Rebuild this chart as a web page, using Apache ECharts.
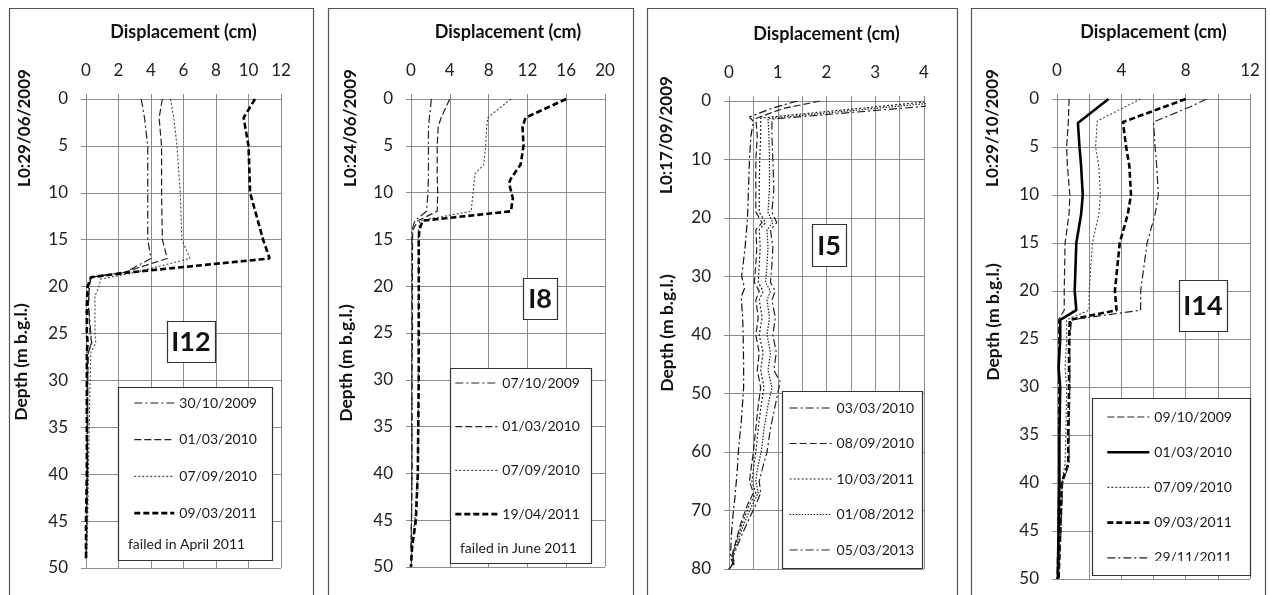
<!DOCTYPE html>
<html><head><meta charset="utf-8">
<script src="https://cdn.jsdelivr.net/npm/echarts@6/dist/echarts.min.js"></script>
<style>html,body{margin:0;padding:0;background:#fff}#c{width:1270px;height:595px}</style>
</head><body><div id="c"></div>
<script>
// ---------- DATA: [displacement (cm), depth (m)] ----------
// Panel I12 (L0: 29/06/2009)
const I12_dates = ['30/10/2009', '01/03/2010', '07/09/2010', '09/03/2011'];
const I12_301009 = [[3.4,0],[3.6,2],[3.8,5],[3.8,10],[3.8,15],[4.0,17],[2.4,18.5],[0.3,19],[0.2,20],[0.15,22],[0.3,25],[0.35,26],[0.1,27],[0.1,30],[0.1,35],[0.05,40],[0.05,45],[0,49]];
const I12_010310 = [[4.7,0],[4.5,2],[4.65,5],[4.65,10],[4.7,15],[5.0,17],[2.3,18.5],[0.3,19],[0.2,20],[0.15,22],[0.25,25],[0.35,26],[0.15,27],[0.1,30],[0.1,35],[0.1,40],[0.05,45],[0,49]];
const I12_070910 = [[5.2,0],[5.4,2],[5.6,5],[5.8,10],[5.9,15],[6.4,17],[3.0,18.5],[0.9,19.2],[0.8,20],[0.55,21],[0.55,25],[0.6,26],[0.3,27],[0.25,30],[0.2,35],[0.15,40],[0.1,45],[0.05,49]];
const I12_090311 = [[10.4,0],[9.7,2],[10.0,5],[10.1,10],[10.9,15],[11.3,17],[2.6,18.5],[0.3,19],[0.1,20],[0.05,22],[0.05,25],[0.1,26],[0.05,27],[0.05,30],[0.05,35],[0.05,40],[0,45],[0,49]];

// Panel I8 (L0: 24/06/2009)
const I8_dates = ['07/10/2009', '01/03/2010', '07/09/2010', '19/04/2011'];
const I8_071009 = [[2.1,0],[1.9,2],[1.8,3],[1.8,5],[1.8,8],[1.75,10],[1.6,12],[0.4,13],[0.1,14],[0.1,15],[0.1,20],[0.1,25],[0.1,30],[0.1,35],[0.1,40],[0.05,45],[0,48]];
const I8_010310 = [[4.0,0],[3.1,2],[2.8,3],[2.7,5],[2.7,8],[2.75,10],[2.7,12],[0.7,13],[0.2,14],[0.15,15],[0.15,20],[0.15,25],[0.1,30],[0.1,35],[0.1,40],[0.05,45],[0,48]];
const I8_070910 = [[10.3,0],[7.9,2],[7.8,3],[7.7,5],[7.5,7],[6.6,8],[6.5,9],[6.4,10],[6.3,11],[6.2,12],[0.9,13],[0.8,14],[0.75,15],[0.8,20],[0.75,25],[0.75,30],[0.75,35],[0.7,40],[0.4,45],[0.1,48],[0,50]];
const I8_190411 = [[16.0,0],[11.8,2],[11.5,3],[11.6,5],[11.3,7],[10.3,8.5],[10.1,9],[10.5,10.6],[10.3,12],[1.2,13],[0.85,14],[0.8,15],[0.8,20],[0.8,25],[0.8,30],[0.75,35],[0.7,40],[0.5,45],[0.1,48],[0,50]];

// Panel I5 (L0: 17/09/2009)
const I5_dates = ['03/03/2010', '08/09/2010', '10/03/2011', '01/08/2012', '05/03/2013'];
const I5_030310 = [[1.4,0],[0.9,1.2],[0.42,2.7],[0.5,3.5],[0.45,6],[0.42,10],[0.4,15],[0.38,20],[0.33,25],[0.26,30],[0.32,32],[0.25,33.5],[0.28,37],[0.29,40],[0.3,45],[0.3,49],[0.25,55],[0.2,59],[0.17,63],[0.12,68],[0.09,70],[0.05,74],[0.03,78],[0.08,79],[0,80]];
const I5_080910 = [[1.87,0],[1.1,1.3],[0.55,3],[0.58,6],[0.55,10],[0.55,15],[0.55,19],[0.68,20.8],[0.55,22],[0.57,25],[0.55,28],[0.52,31],[0.62,32.5],[0.55,34],[0.6,37],[0.55,40],[0.62,43],[0.58,46],[0.65,49],[0.6,52],[0.55,56],[0.5,60],[0.45,63],[0.42,65],[0.5,67],[0.38,69],[0.25,72],[0.15,75],[0.05,78],[0.1,79],[0,80]];
const I5_100311 = [[4.1,0.1],[0.65,2.9],[0.65,6],[0.63,10],[0.62,15],[0.62,19],[0.75,20.8],[0.62,22],[0.64,25],[0.62,28],[0.6,31],[0.7,32.5],[0.62,34],[0.68,37],[0.62,40],[0.7,43],[0.65,46],[0.72,49],[0.66,52],[0.6,56],[0.55,60],[0.5,63],[0.47,65],[0.55,67],[0.42,69],[0.28,72],[0.16,75],[0.06,78],[0.1,79],[0,80]];
const I5_010812 = [[4.1,0.4],[0.8,3.0],[0.82,6],[0.83,10],[0.83,15],[0.8,19],[0.9,20.8],[0.78,22],[0.8,25],[0.78,28],[0.75,31],[0.85,32.5],[0.78,34],[0.83,37],[0.78,40],[0.85,43],[0.8,46],[0.88,49],[0.8,52],[0.72,56],[0.66,60],[0.58,63],[0.55,65],[0.6,67],[0.48,69],[0.32,72],[0.18,75],[0.07,78],[0.1,79],[0,80]];
const I5_050313 = [[4.1,0.85],[0.88,3.1],[0.88,6],[0.9,10],[0.92,15],[0.88,19],[0.98,20.8],[0.85,22],[0.9,25],[0.88,28],[0.85,31],[0.95,32.5],[0.88,34],[0.95,37],[0.9,40],[0.97,43],[0.92,46],[1.05,48],[0.95,52],[0.85,56],[0.78,60],[0.68,63],[0.62,65],[0.65,67],[0.55,69],[0.38,72],[0.22,75],[0.08,78],[0.12,79],[0,80]];

// Panel I14 (L0: 29/10/2009)
const I14_dates = ['09/10/2009', '01/03/2010', '07/09/2010', '09/03/2011', '29/11/2011'];
const I14_091009 = [[0.75,0],[0.7,2.5],[0.6,5],[0.65,7],[0.8,10],[0.75,12],[0.5,15],[0.45,20],[0.45,22],[0.1,23],[0.1,25],[0.1,30],[0.1,35],[0.1,40],[0.05,45],[0,50]];
const I14_010310 = [[3.2,0],[1.3,2.5],[1.4,5],[1.5,7],[1.6,10],[1.5,12],[1.2,15],[1.1,20],[1.2,22],[0.2,23],[0.2,25],[0.1,28],[0.2,30],[0.15,35],[0.15,40],[0.1,45],[0.05,50]];
const I14_070910 = [[5.2,0],[2.5,2.3],[2.4,5],[2.6,7],[2.7,10],[2.6,12],[2.2,15],[2.0,20],[2.0,22],[0.6,23],[0.6,25],[0.5,28],[0.6,30],[0.55,35],[0.5,38],[0.3,40],[0.2,45],[0.1,50]];
const I14_090311 = [[8.0,0],[4.1,2.4],[4.3,5],[4.5,7],[4.6,10],[4.4,12],[3.9,15],[3.6,20],[3.7,22],[0.8,23],[0.75,25],[0.75,30],[0.7,35],[0.7,38],[0.3,40],[0.2,45],[0.1,50]];
const I14_291111 = [[9.3,0],[8.3,0.8],[6.0,2.4],[6.1,5],[6.2,7],[6.3,10],[6.1,12],[5.6,15],[5.2,20],[5.2,22],[0.9,23],[0.8,25],[0.8,30],[0.75,35],[0.75,38],[0.35,40],[0.25,45],[0.1,50]];

// Axis ranges and texts
const xMax = [12, 20, 4, 12];
const xInterval = [2, 4, 0.5, 2];
const xLabelStep = [2, 4, 1, 4];
const yMax = [50, 50, 80, 50];
const yInterval = [5, 5, 10, 5];
const panelIds = ['I12', 'I8', 'I5', 'I14'];
const baseDates = ['L0:29/06/2009', 'L0:24/06/2009', 'L0:17/09/2009', 'L0:29/10/2009'];
const failedNotes = ['failed in April 2011', 'failed in June 2011', '', ''];

// ---------- LAYOUT / STYLE ----------
const FONT = 'Lato, "Liberation Sans", sans-serif';
const GRID = '#8c8c8c';
const grids = [
  {left: 86, top: 99, width: 195, height: 469},
  {left: 411, top: 99, width: 194, height: 468},
  {left: 729, top: 101, width: 195, height: 468},
  {left: 1057, top: 99, width: 193, height: 480}
];
const DD = [8,3,2,3], LD = [7,3], DOT = [2,2], FDOT = [1.5,1.5], TD = [6,3];
const panelSeries = [
  {dates: I12_dates, data: [I12_301009, I12_010310, I12_070910, I12_090311],
   styles: [{t: DD, w: 1.2, c: '#222'}, {t: LD, w: 1.2, c: '#222'}, {t: DOT, w: 1.1, c: '#444'}, {t: TD, w: 2.6, c: '#000'}]},
  {dates: I8_dates, data: [I8_071009, I8_010310, I8_070910, I8_190411],
   styles: [{t: DD, w: 1.2, c: '#222'}, {t: LD, w: 1.2, c: '#222'}, {t: DOT, w: 1.1, c: '#444'}, {t: TD, w: 2.6, c: '#000'}]},
  {dates: I5_dates, data: [I5_030310, I5_080910, I5_100311, I5_010812, I5_050313],
   styles: [{t: DD, w: 1.2, c: '#111'}, {t: LD, w: 1.2, c: '#222'}, {t: DOT, w: 1.2, c: '#222'}, {t: FDOT, w: 1.2, c: '#222'}, {t: DD, w: 1.2, c: '#222'}]},
  {dates: I14_dates, data: [I14_091009, I14_010310, I14_070910, I14_090311, I14_291111],
   styles: [{t: LD, w: 1.2, c: '#222'}, {t: 'solid', w: 2.6, c: '#000'}, {t: DOT, w: 1.1, c: '#444'}, {t: TD, w: 2.6, c: '#000'}, {t: DD, w: 1.2, c: '#222'}]}
];
const legendPos = [
  {left: 133, top: 396, w: 40, gap: 22.7},
  {left: 454, top: 376, w: 42, gap: 29.7},
  {left: 789, top: 401, w: 42, gap: 21.5},
  {left: 1106, top: 410, w: 42, gap: 21.2}
];
const legendBoxes = [[118,387,154,173],[450,368,141,195],[782,391,140,177],[1092,398,158,177]];
const failedPos = [[128,544],[460,548]];
const idBoxes = [[167,321,48,41],[523,278,34,41],[812,224,34,42],[1179,280,48,51]];
const frames = [[9,8,304,590],[328,8,305,590],[647,8,310,590],[971,8,294,590]];
const basePos = [[25,128],[351,128],[667,135],[993,128]];
const depthPos = [[21,362],[346,363],[667,333],[993,322]];

const xAxes = [], yAxes = [], series = [], legends = [], graphics = [];
for (let i = 0; i < 4; i++) {
  xAxes.push({
    gridIndex: i, type: 'value', position: 'top', min: 0, max: xMax[i], interval: xInterval[i],
    name: 'Displacement (cm)', nameLocation: 'middle', nameGap: 58,
    nameTextStyle: {fontFamily: FONT, fontWeight: 'bold', fontSize: 18, color: '#111'},
    axisLine: {show: true, lineStyle: {color: GRID}},
    axisTick: {show: true, length: 5, lineStyle: {color: GRID}},
    axisLabel: {margin: 20, fontFamily: FONT, fontSize: 17, color: '#222',
      formatter: (v) => (Math.abs(v / xLabelStep[i] - Math.round(v / xLabelStep[i])) < 1e-6 ? String(v) : '')},
    splitLine: {show: true, lineStyle: {color: GRID, width: 1}}
  });
  yAxes.push({
    gridIndex: i, type: 'value', inverse: true, min: 0, max: yMax[i], interval: yInterval[i],
    axisLine: {show: true, lineStyle: {color: GRID}},
    axisTick: {show: true, length: 5, lineStyle: {color: GRID}},
    axisLabel: {margin: 18, fontFamily: FONT, fontSize: 17, color: '#222'},
    splitLine: {show: true, lineStyle: {color: GRID, width: 1}}
  });
  const ps = panelSeries[i];
  const names = [];
  ps.dates.forEach((d, k) => {
    const nm = panelIds[i] + '|' + d;
    names.push(nm);
    const st = ps.styles[k];
    series.push({
      type: 'line', name: nm, xAxisIndex: i, yAxisIndex: i, data: ps.data[k],
      symbol: 'none', showSymbol: false, clip: true, animation: false,
      color: st.c,
      lineStyle: {color: st.c, width: st.w, type: st.t}
    });
  });
  const lp = legendPos[i];
  legends.push({
    left: lp.left, top: lp.top, orient: 'vertical', padding: 0,
    itemWidth: lp.w, itemHeight: 14, itemGap: lp.gap, selectedMode: false, z: 20,
    data: names, formatter: (n) => n.split('|')[1],
    itemStyle: {opacity: 0},
    lineStyle: {width: 'inherit'},
    textStyle: {fontFamily: FONT, fontSize: 14, color: '#1a1a1a', lineHeight: 14}
  });
  // frames
  const f = frames[i];
  graphics.push({type: 'rect', z: 0, silent: true, shape: {x: f[0] + 0.5, y: f[1] + 0.5, width: f[2], height: f[3]},
    style: {fill: 'none', stroke: '#555', lineWidth: 1.2}});
  // legend box
  const b = legendBoxes[i];
  graphics.push({type: 'rect', z: 10, silent: true, shape: {x: b[0] + 0.5, y: b[1] + 0.5, width: b[2], height: b[3]},
    style: {fill: '#fff', stroke: '#333', lineWidth: 1.2}});
  if (failedNotes[i]) {
    graphics.push({type: 'text', z: 30, silent: true, x: failedPos[i][0], y: failedPos[i][1],
      style: {text: failedNotes[i], font: '14px ' + FONT, fill: '#1a1a1a', align: 'left', verticalAlign: 'middle', textAlign: 'left', textVerticalAlign: 'middle'}});
  }
  // id boxes
  const ib = idBoxes[i];
  graphics.push({type: 'rect', z: 10, silent: true, shape: {x: ib[0] + 0.5, y: ib[1] + 0.5, width: ib[2], height: ib[3]},
    style: {fill: '#fff', stroke: '#333', lineWidth: 1.2}});
  graphics.push({type: 'text', z: 11, silent: true, x: ib[0] + ib[2] / 2, y: ib[1] + ib[3] / 2 + 1,
    style: {text: panelIds[i], font: 'bold 27px ' + FONT, fill: '#111', align: 'center', verticalAlign: 'middle', textAlign: 'center', textVerticalAlign: 'middle'}});
  // rotated axis texts
  graphics.push({type: 'text', z: 11, silent: true, x: basePos[i][0], y: basePos[i][1], rotation: Math.PI / 2,
    style: {text: baseDates[i], font: 'bold 17px ' + FONT, fill: '#111', align: 'center', verticalAlign: 'middle', textAlign: 'center', textVerticalAlign: 'middle'}});
  graphics.push({type: 'text', z: 11, silent: true, x: depthPos[i][0], y: depthPos[i][1], rotation: Math.PI / 2,
    style: {text: 'Depth (m b.g.l.)', font: 'bold 17.5px ' + FONT, fill: '#111', align: 'center', verticalAlign: 'middle', textAlign: 'center', textVerticalAlign: 'middle'}});
}
// lower part of the last I14 legend entry is hidden by the box in the original
graphics.push({type: 'rect', z: 25, silent: true, shape: {x: 1094, y: 561, width: 155, height: 13}, style: {fill: '#fff'}});

const chart = echarts.init(document.getElementById('c'), null, {renderer: 'canvas'});
chart.setOption({
  animation: false,
  backgroundColor: '#fff',
  grid: grids,
  xAxis: xAxes,
  yAxis: yAxes,
  legend: legends,
  series: series,
  graphic: {elements: graphics}
});
</script>
</body></html>
